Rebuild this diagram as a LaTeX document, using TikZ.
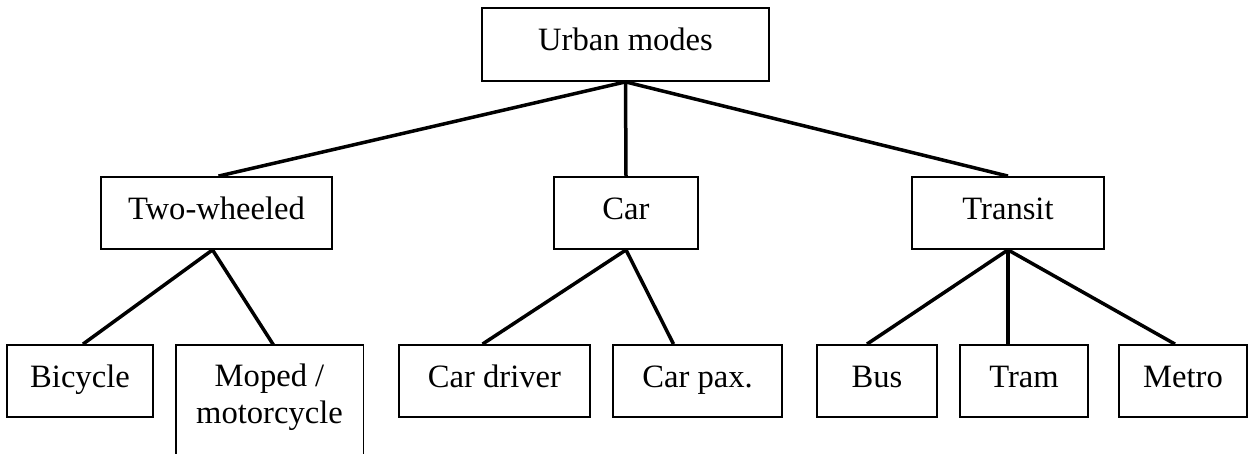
\documentclass[tikz,border=0pt]{standalone}
\usepackage{fontspec}
\setmainfont{Liberation Serif}
\usetikzlibrary{calc}
\def \boxheight {36pt}

\tikzset{mode/.style = {draw, line width = 0.9pt, inner sep = 0pt, minimum height = \boxheight, text height = 9.5pt, text depth = 3pt, font = \fontsize{16.3}{18.5}\selectfont}}
\tikzset{link/.style = {-, line width = 1.75pt}}

\begin{document}
\begin{tikzpicture}[x = 0.5pt, y = -0.5pt]
\useasboundingbox (0,0) rectangle (1249,454);

\node (urban) [mode, minimum width = 143.5pt, minimum height = 36.5pt] at (625.5, 44.5) {Urban modes};

\node (two) [mode, minimum width = 115.5pt] at (216.5, 213) {Two-wheeled};
\node (car) [mode, minimum width = 72pt] at (626, 213) {Car};
\node (transit) [mode, minimum width = 96pt] at (1008, 213) {Transit};

\draw[link] (urban.south) to ([xshift = 1pt] two.north);
\draw[link] (urban.south) to (car.north);
\draw[link] (urban.south) to (transit.north);

\node (bicycle) [mode, minimum width = 73pt] at (80, 381) {Bicycle};
% open box, cut off at the bottom
\node (mopedbox) [minimum width = 93.5pt, minimum height = 54.5pt, inner sep = 0pt, anchor = north] at (269.5, 345) {};
\draw[line width = 0.9pt] (mopedbox.south west) -- (mopedbox.north west) -- (mopedbox.north east) -- (mopedbox.south east);
\node (moped) [align = center, inner sep = 0pt, anchor = base, font = \fontsize{16.3}{18.5}\selectfont] at (269.5, 423) {Moped /\\motorcycle};

\draw[link] ([xshift = -2pt] two.south) to ([xshift = 1.5pt] bicycle.north);
\draw[link] ([xshift = -2pt] two.south) to ([xshift = 2pt] mopedbox.north);

\node (cardriver) [mode, minimum width = 95.5pt] at (494.5, 381) {Car driver};
\node (carpax) [mode, minimum width = 84.5pt] at (697.5, 381) {Car pax.};

\draw[link] (car.south) to ([xshift = -6pt] cardriver.north);
\draw[link] (car.south) to ([xshift = -12pt] carpax.north);

\node (bus) [mode, minimum width = 60pt] at (877, 381) {Bus};
\node (tram) [mode, minimum width = 64pt] at (1024, 381) {Tram};
\node (metro) [mode, minimum width = 64pt] at (1183, 381) {Metro};

\draw[link] (transit.south) to ([xshift = -5pt] bus.north);
\draw[link] (transit.south) to ([xshift = -8pt] tram.north);
\draw[link] (transit.south) to ([xshift = -4pt] metro.north);

\end{tikzpicture}
\end{document}
